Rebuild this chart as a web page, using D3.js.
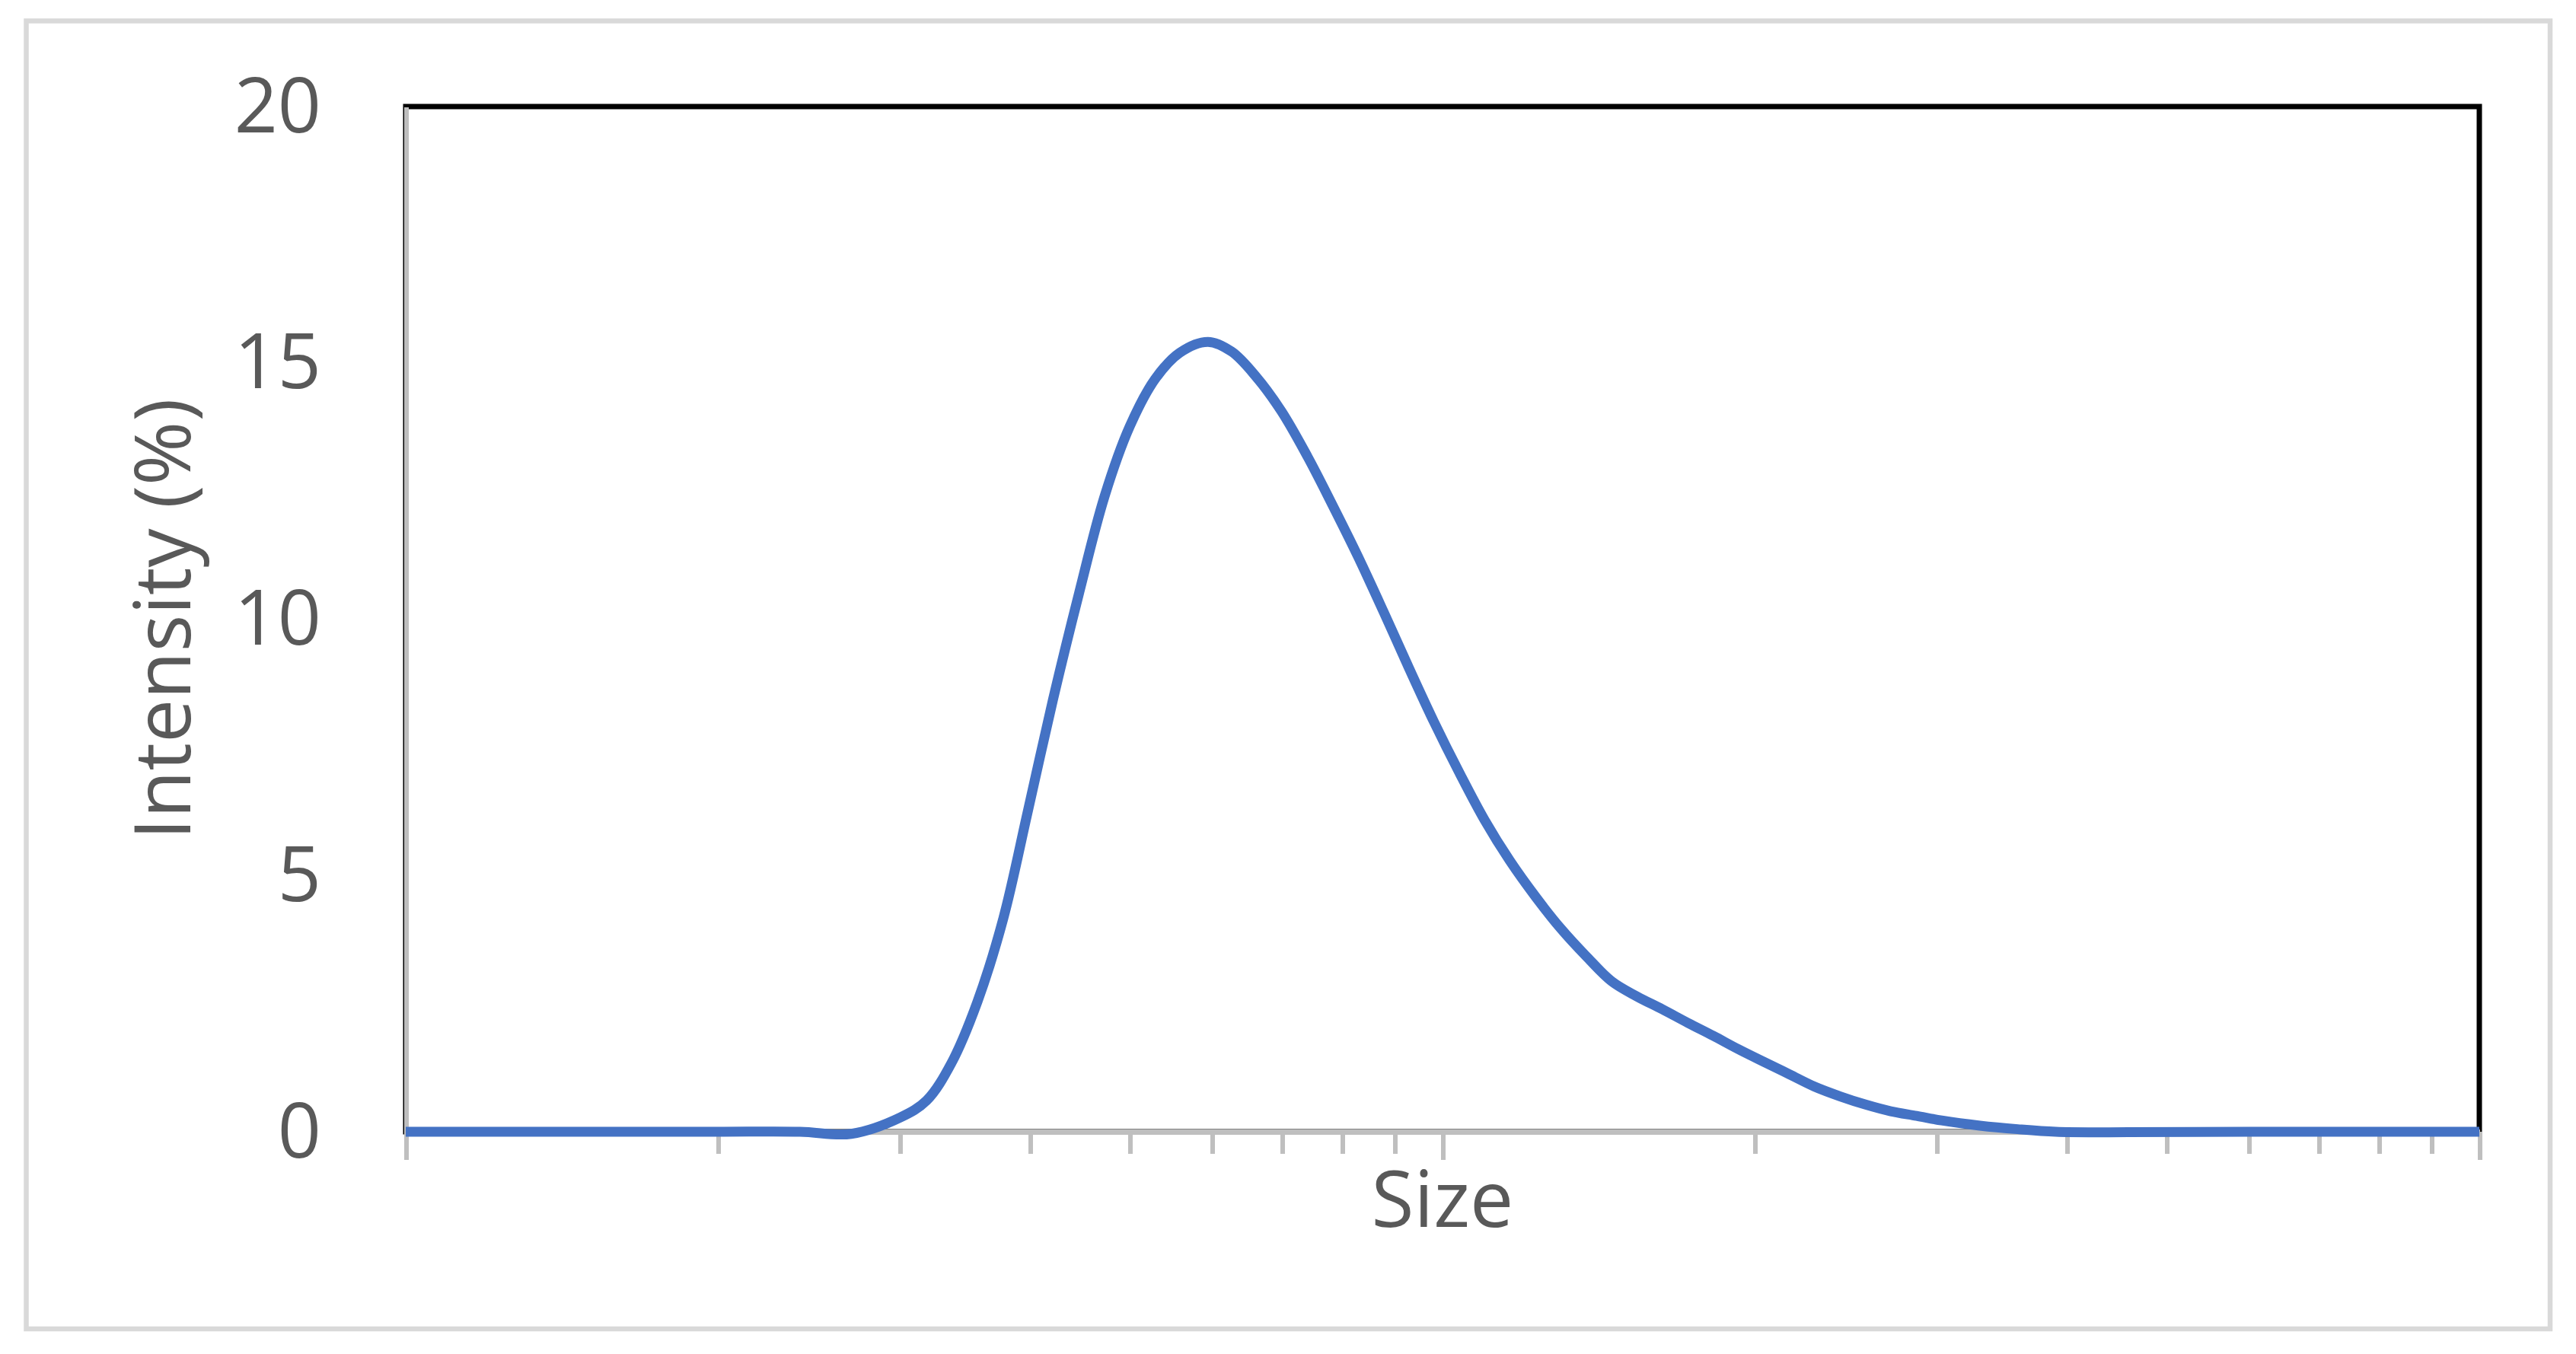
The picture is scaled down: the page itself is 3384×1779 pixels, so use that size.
<!DOCTYPE html>
<meta charset="utf-8">
<style>
body {
  margin: 0;
  background: #fff;
  font-family: 'Open Sans', sans-serif;
}

.tick text {
  fill: #595959;
  font-family: 'Open Sans', sans-serif;
  font-size: 100px;
}

.axis path,
.axis line {
  stroke: #bfbfbf;
  shape-rendering: crispEdges;
}

.axis--x path {
  stroke-width: 7px;
}

.axis--x line {
  stroke-width: 6px;
}

.axis--y path {
  stroke-width: 6px;
}

.axis-title {
  fill: #595959;
  font-family: 'Open Sans', sans-serif;
  font-size: 102px;
  text-anchor: middle;
}

.data-line {
  fill: none;
  stroke: #4472C4;
  stroke-width: 13px;
}
</style>
<body>
<svg width="3384" height="1779"></svg>
<script src="https://d3js.org/d3.v7.min.js"></script>
<script>
// size values (log axis) and intensity (%)
var sizes = [10, 15, 20, 24, 26.9, 30, 31.8, 33.6, 35.6, 37.7, 39.8, 42.1, 44.6, 47.2, 49.9,
  52.8, 55.8, 59.4, 62.6, 66.1, 69.9, 74.1, 78.3, 82.8, 87.7, 92.8, 98.1, 103.9, 109.8,
  116.1, 123, 130.1, 137.5, 145.7, 154, 162.9, 172.6, 182.5, 192.9, 204.3, 216.1, 228.5,
  241.9, 255.9, 270.6, 286.6, 303, 329.8, 358.8, 390.4, 439.5, 600, 800, 1000];
var intensity = [0, 0, 0, 0, -0.04, 0.28, 0.61, 1.34, 2.54, 4.16, 6.24, 8.43, 10.5, 12.39, 13.75,
  14.68, 15.2, 15.41, 15.22, 14.73, 14.06, 13.17, 12.23, 11.24, 10.15, 9.05, 8.0, 6.99, 6.08,
  5.29, 4.58, 3.96, 3.43, 2.93, 2.64, 2.39, 2.12, 1.87, 1.61, 1.36, 1.12, 0.88, 0.69,
  0.53, 0.4, 0.31, 0.22, 0.12, 0.05, 0, -0.01, 0, 0, 0];
var yTicks = [0, 5, 10, 15, 20];
var majorTicks = [10, 100, 1000];
var minorTicks = [20, 30, 40, 50, 60, 70, 80, 90, 200, 300, 400, 500, 600, 700, 800, 900];

var data = sizes.map(function(s, i) { return {size: s, value: intensity[i]}; });

var svg = d3.select("svg"),
    margin = {top: 140, right: 127, bottom: 292, left: 533},
    width = +svg.attr("width") - margin.left - margin.right,
    height = +svg.attr("height") - margin.top - margin.bottom;

// chart area border
svg.append("rect")
    .attr("x", 34.5).attr("y", 27.5)
    .attr("width", 3315.5).attr("height", 1718.5)
    .attr("fill", "#fff")
    .attr("stroke", "#d9d9d9")
    .attr("stroke-width", 6.5);

var x = d3.scaleLog().domain([10, 1000]).range([0, width]);
var y = d3.scaleLinear().domain([0, 20]).range([height, 0]);

var g = svg.append("g")
    .attr("transform", "translate(" + margin.left + "," + margin.top + ")");

// plot area border (top and right show black)
g.append("rect")
    .attr("width", width)
    .attr("height", height)
    .attr("fill", "none")
    .attr("stroke", "#000")
    .attr("stroke-width", 7);

g.append("g")
    .attr("class", "axis axis--y")
    .call(d3.axisLeft(y)
      .tickValues(yTicks)
      .tickSize(0)
      .tickPadding(111)
      .tickFormat(d3.format("d")))
    .call(function(a) { a.selectAll(".tick text").attr("dy", "33px"); });

g.append("g")
    .attr("class", "axis axis--x")
    .attr("transform", "translate(0," + height + ")")
    .call(d3.axisBottom(x)
      .tickValues(minorTicks)
      .tickSize(29)
      .tickSizeOuter(0)
      .tickFormat(""));

g.append("g")
    .attr("class", "axis axis--x")
    .attr("transform", "translate(0," + height + ")")
    .call(d3.axisBottom(x)
      .tickValues(majorTicks)
      .tickSize(37)
      .tickSizeOuter(0)
      .tickFormat(""));

// axis titles
g.append("text")
    .attr("class", "axis-title")
    .attr("x", width / 2)
    .attr("y", 1612 - margin.top)
    .text("Size");

g.append("text")
    .attr("class", "axis-title")
    .attr("transform", "translate(" + (250 - margin.left) + "," + (height / 2) + ") rotate(-90)")
    .text("Intensity (%)");

var line = d3.line()
    .curve(d3.curveCatmullRom.alpha(0.5))
    .x(function(d) { return x(d.size); })
    .y(function(d) { return y(d.value); });

g.append("path")
    .datum(data)
    .attr("class", "data-line")
    .attr("d", line);
</script>
